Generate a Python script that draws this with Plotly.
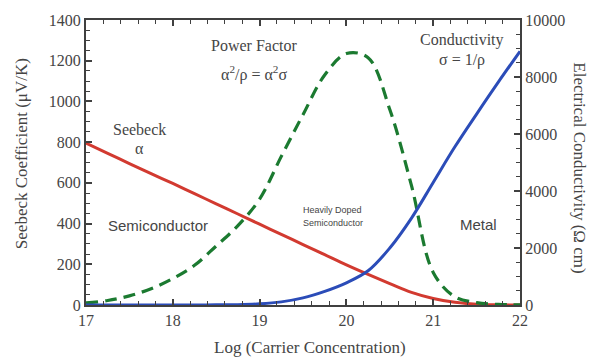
import plotly.graph_objects as go

# Log(carrier concentration) sample points
log_n = [17.0, 17.25, 17.5, 17.75, 18.0, 18.25, 18.5, 18.75, 19.0, 19.25, 19.5, 19.75,
         20.0, 20.25, 20.5, 20.75, 21.0, 21.25, 21.5, 21.75, 22.0]

# Seebeck coefficient (uV/K), left axis
seebeck = [795, 745, 695, 645, 597, 547, 497, 447, 397, 347, 297, 247,
           197, 150, 105, 62, 32, 13, 4, 1, 0]

# Power factor (plotted against the left axis scale)
power_factor = [10, 22, 45, 80, 130, 195, 290, 390, 520, 730, 935, 1130,
                1235, 1215, 960, 586, 160, 40, 12, 3, 1]

# Electrical conductivity, right axis
conductivity = [0, 0, 0, 1, 2, 3, 5, 12, 40, 110, 250, 480,
                780, 1200, 2000, 3050, 4300, 5550, 6700, 7820, 8900]

RED = "#d23a30"
GREEN = "#1b7a30"
BLUE = "#2b4cb8"
AX = "#404040"
TXT = "#454545"
SERIF = "Liberation Serif, Times New Roman, serif"
SANS = "Liberation Sans, Arial, sans-serif"

fig = go.Figure()
fig.add_trace(go.Scatter(x=log_n, y=seebeck, mode="lines",
                         line=dict(color=RED, width=3, shape="spline"),
                         name="Seebeck", yaxis="y"))
fig.add_trace(go.Scatter(x=log_n, y=power_factor, mode="lines",
                         line=dict(color=GREEN, width=3.2, dash="12px,7px", shape="spline"),
                         name="Power Factor", yaxis="y"))
fig.add_trace(go.Scatter(x=log_n, y=conductivity, mode="lines",
                         line=dict(color=BLUE, width=3, shape="spline"),
                         name="Conductivity", yaxis="y2"))

tickfont = dict(family=SERIF, size=16, color=TXT)

fig.update_layout(
    width=601, height=362,
    margin=dict(l=86, r=81, t=16, b=57),
    paper_bgcolor="white", plot_bgcolor="white",
    showlegend=False,
    xaxis=dict(range=[17, 22], dtick=1, tick0=17, ticks="inside", ticklen=6, tickwidth=1.5,
               tickcolor=AX, showline=True, linecolor=AX, linewidth=2, mirror="ticks",
               showgrid=False, zeroline=False, tickfont=tickfont,
               minor=dict(ticks="inside", dtick=0.2, ticklen=4, tickcolor=AX, tickwidth=1.2,
                          showgrid=False)),
    yaxis=dict(range=[0, 1400], dtick=200, ticks="inside", ticklen=6, tickwidth=1.5,
               tickcolor=AX, showline=True, linecolor=AX, linewidth=2,
               showgrid=False, zeroline=False, tickfont=tickfont,
               minor=dict(ticks="inside", dtick=50, ticklen=4, tickcolor=AX, tickwidth=1.2,
                          showgrid=False)),
    yaxis2=dict(range=[0, 10000], dtick=2000, overlaying="y", side="right",
                ticks="inside", ticklen=6, tickwidth=1.5, tickcolor=AX, tickformat="d",
                showline=True, linecolor=AX, linewidth=2,
                showgrid=False, zeroline=False, tickfont=tickfont,
                minor=dict(ticks="inside", dtick=500, ticklen=4, tickcolor=AX, tickwidth=1.2,
                           showgrid=False)),
)

def label(x, y, text, font, size, ref="y"):
    fig.add_annotation(x=x, y=y, xref="x", yref=ref, text=text, showarrow=False,
                       font=dict(family=font, size=size, color=TXT),
                       xanchor="center", yanchor="middle")

label(17.62, 862, "Seebeck", SERIF, 16)
label(17.62, 770, "α", SERIF, 16)
label(18.93, 1275, "Power Factor", SERIF, 16)
label(18.93, 1135, "α<sup>2</sup>/ρ = α<sup>2</sup>σ", SERIF, 16)
label(21.33, 1300, "Conductivity", SERIF, 16)
label(21.33, 1205, "σ = 1/ρ", SERIF, 16)
label(17.83, 393, "Semiconductor", SANS, 15)
label(19.84, 467, "Heavily Doped", SANS, 9)
label(19.84, 405, "Semiconductor", SANS, 9)
label(21.52, 397, "Metal", SANS, 15)

# Axis titles (paper coordinates are relative to the plotting area)
def title(x, y, text, angle):
    fig.add_annotation(x=x, y=y, xref="paper", yref="paper", showarrow=False,
                       text=text, textangle=angle, xanchor="center", yanchor="middle",
                       font=dict(family=SERIF, size=17, color=TXT))

title(-0.147, 0.53, "Seebeck Coefficient (μV/K)", -90)
title(1.138, 0.48, "Electrical Conductivity (Ω cm)", 90)
title(0.516, -0.149, "Log (Carrier Concentration)", 0)

fig.write_html("out.html")
